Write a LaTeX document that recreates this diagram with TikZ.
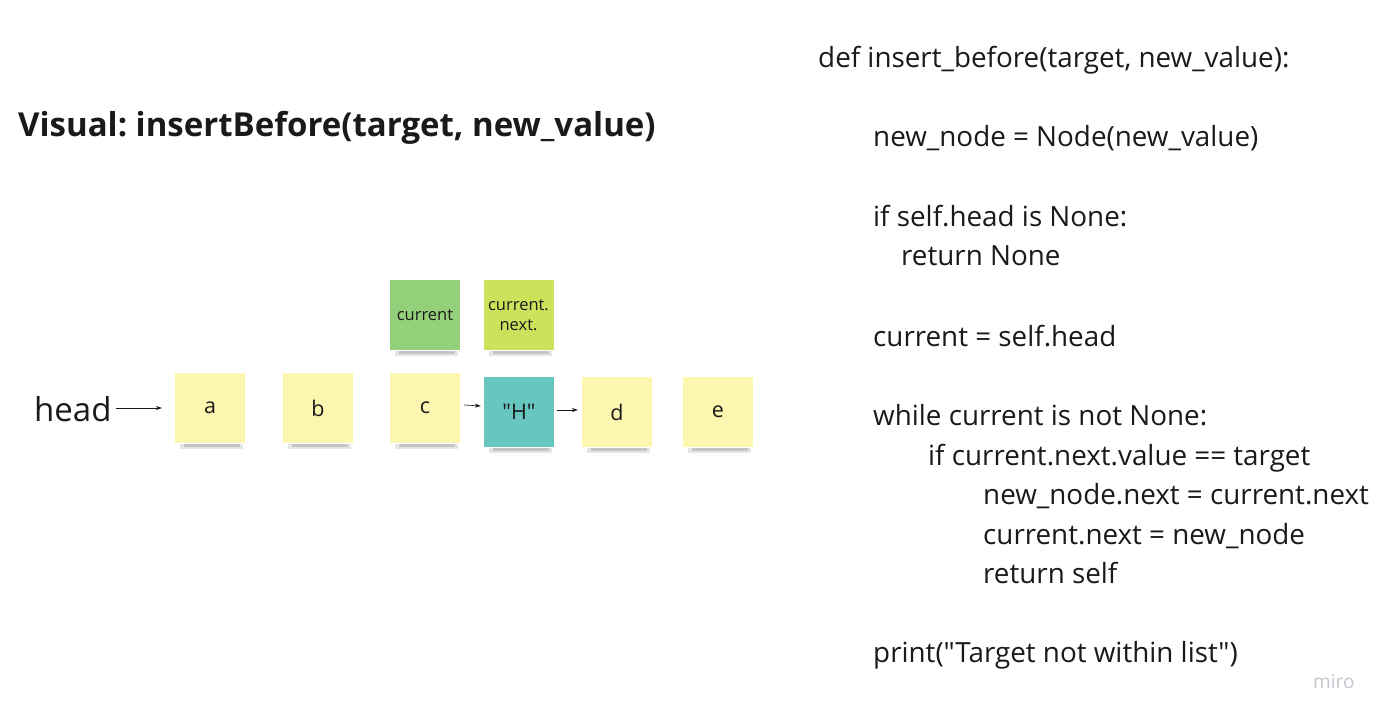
\documentclass[tikz,border=0pt]{standalone}
\usepackage{fontspec}
\setmainfont{Open Sans}[Ligatures=TeXOff]
\frenchspacing
\usetikzlibrary{arrows.meta}
\definecolor{stickyyellow}{HTML}{FCF6B0}
\definecolor{stickygreen}{HTML}{94D07A}
\definecolor{stickylime}{HTML}{CDE15A}
\definecolor{stickyteal}{HTML}{67C6C0}
\definecolor{inktext}{HTML}{1A1A1A}
\definecolor{watermark}{HTML}{C4C6CE}
\tikzset{
  x=1pt, y=-1pt,
  sticky/.style={minimum width=70pt, minimum height=70pt, inner sep=0pt,
    font=\fontsize{21.5}{24}\selectfont, text=inktext},
  smalltag/.style={sticky, font=\fontsize{16.5}{20.5}\selectfont, align=center},
  codeline/.style={anchor=base west, inner sep=0pt, text=inktext,
    font=\fontsize{27.8}{32}\selectfont},
  link/.style={-{Stealth[length=6pt,width=4pt]}, line width=0.6pt, draw=inktext},
}
% soft shadow under a sticky note
\newcommand{\noteshadow}[1]{%
  \fill[black, opacity=0.10] ([xshift=-30pt,yshift=-1pt]#1.south) rectangle ([xshift=33pt,yshift=-6pt]#1.south);
  \fill[black, opacity=0.14] ([xshift=-26pt,yshift=-1pt]#1.south) rectangle ([xshift=30pt,yshift=-3.5pt]#1.south);
}
\begin{document}
\begin{tikzpicture}
\useasboundingbox[fill=white] (0,0) rectangle (1389,719);

% title
\node[anchor=base west, inner sep=0pt, text=inktext, font=\fontsize{33}{38}\selectfont\bfseries]
  (title) at (18,137) {Visual: insertBefore(target, new\_value)};

% list nodes
\node[sticky] (a) at (210,408) {};
\node[sticky] (b) at (318,408) {};
\node[sticky] (c) at (425,408) {};
\node[sticky] (h) at (519,412) {};
\node[sticky] (d) at (617,412) {};
\node[sticky] (e) at (718,412) {};
\node[smalltag] (cur) at (425,315) {};
\node[smalltag] (nxt) at (518.5,315) {};

\noteshadow{a}\noteshadow{b}\noteshadow{c}\noteshadow{h}\noteshadow{d}\noteshadow{e}
\noteshadow{cur}\noteshadow{nxt}

\node[sticky, fill=stickyyellow] at (a) {a};
\node[sticky, fill=stickyyellow] at (b) {b};
\node[sticky, fill=stickyyellow] at (c) {c};
\node[sticky, fill=stickyteal] at (h) {"H"};
\node[sticky, fill=stickyyellow] at (d) {d};
\node[sticky, fill=stickyyellow] at (e) {e};
\node[smalltag, fill=stickygreen] at (cur) {current};
\node[smalltag, fill=stickylime] at (nxt) {current.\\next.};

% head pointer
\node[anchor=base west, inner sep=0pt, text=inktext, font=\fontsize{33}{38}\selectfont]
  (head) at (34,421) {head};
\draw[link] ([xshift=4pt]head.east |- a.west) -- ([xshift=-13pt]a.west);
\draw[link] ([xshift=4pt,yshift=3pt]c.east) -- ([xshift=-3pt,yshift=6pt]h.west);
\draw[link] ([xshift=3pt,yshift=2pt]h.east) -- ([xshift=-4pt,yshift=2pt]d.west);

% code listing
\node[codeline] (l1) at (818,68) {def insert\_before(target, new\_value):};
\node[codeline] (l2) at (873,147) {new\_node = Node(new\_value)};
\node[codeline] (l3) at (873,227) {if self.head is None:};
\node[codeline] (l4) at (901,266) {return None};
\node[codeline] (l5) at (873,346) {current = self.head};
\node[codeline] (l6) at (873,425) {while current is not None:};
\node[codeline] (l7) at (928,465) {if current.next.value == target};
\node[codeline] (l8) at (983,504) {new\_node.next = current.next};
\node[codeline] (l9) at (983,544) {current.next = new\_node};
\node[codeline] (l10) at (983,583) {return self};
\node[codeline] (l11) at (873,662) {print("Target not within list")};

% watermark
\node[anchor=base west, inner sep=0pt, text=watermark, font=\fontsize{19}{22}\selectfont]
  (mark) at (1313,688) {miro};
\end{tikzpicture}
\end{document}
